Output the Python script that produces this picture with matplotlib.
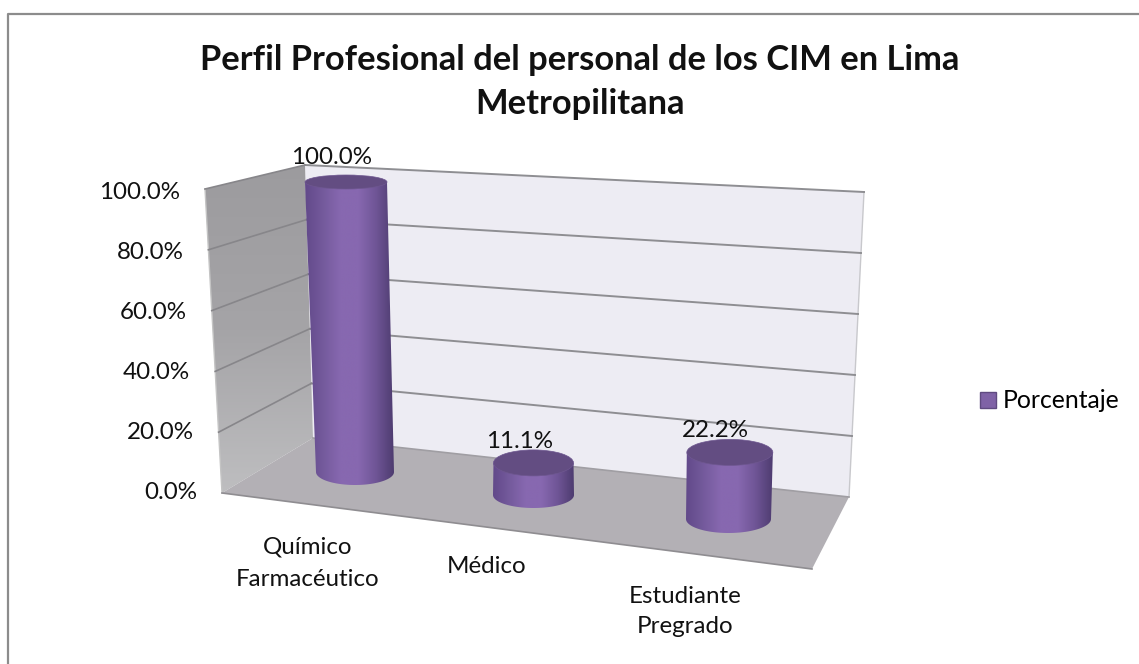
import numpy as np
import matplotlib
matplotlib.use("Agg")
import matplotlib.pyplot as plt
from matplotlib.patches import Polygon, Ellipse, PathPatch, Patch
from matplotlib.path import Path
from matplotlib.colors import LinearSegmentedColormap

# --- data ---
title = "Perfil Profesional del personal de los CIM en Lima\nMetropilitana"
categories = ["Químico\nFarmacéutico", "Médico", "Estudiante\nPregrado"]
values = [100.0, 11.1, 22.2]
series_name = "Porcentaje"
y_ticks = [0, 20, 40, 60, 80, 100]

# --- style / layout (pixel space of the 3D projection) ---
W, H = 1139, 664
FONT = "Lato"
FS = 17.4
back_tl, back_tr = (305, 165), (864, 192)
back_bl, back_br = (313, 438), (849, 497)
side_tl, side_bl = (205, 189), (222, 493)
floor_fr = (812, 569)
y_max = 100.0
# per-category baseline centre, pixels per full-scale, lean, radii
cyl_base = [(355, 472), (533.5, 495), (728.5, 519)]
cyl_full = [290, 289, 300]
cyl_lean = [-9.0, 0.0, 6.0]
cyl_a = [(41, 39), (40, 40.5), (43, 42.5)]
cyl_b_top = [7, 13, 13]
cyl_b_bot = [13, 13, 14]
cat_label_xy = [(308, 586), (487, 573), (685, 633)]
cat_linespacing = [1.7, 1.5, 1.55]
tick_x0, tick_x1 = 197, 180
tick_y0, tick_y1 = 499, 199

fig = plt.figure(figsize=(W / 100, H / 100), dpi=100, facecolor="white")
ax = fig.add_axes([0, 0, 1, 1])
ax.set_axis_off()


def lerp(p, q, t):
    return (p[0] + (q[0] - p[0]) * t, p[1] + (q[1] - p[1]) * t)


def poly(pts, fc, ec="none", lw=0, z=1):
    ax.add_patch(Polygon(pts, closed=True, fc=fc, ec=ec, lw=lw, zorder=z))


# frame (left and top edges only)
ax.plot([8, 8, W], [H, 14, 14], color="#8c8c8c", lw=1.6, zorder=0)

# walls and floor
poly([back_tl, back_tr, back_br, back_bl], "#edecf3", z=1)
side_pts = [side_tl, back_tl, back_bl, side_bl]
side_clip = Polygon(side_pts, closed=True, fc="none", ec="none")
ax.add_patch(side_clip)
side_cmap = LinearSegmentedColormap.from_list("side", ["#9c9b9e", "#a5a4a7", "#bfbfc1"])
side_im = ax.imshow(np.linspace(0, 1, 256)[:, None], extent=[200, 320, 500, 160], cmap=side_cmap,
                    aspect="auto", zorder=1, interpolation="bilinear")
side_im.set_clip_path(side_clip)
poly([side_bl, back_bl, back_br, floor_fr], "#b3b0b5", z=1)
ax.plot([side_tl[0], side_bl[0]], [side_tl[1], side_bl[1]], color="#c4c4c4", lw=1, zorder=2)
ax.plot([back_tr[0], back_br[0]], [back_tr[1], back_br[1]], color="#c8c8cc", lw=1, zorder=2)
ax.plot([side_bl[0], floor_fr[0]], [side_bl[1], floor_fr[1]], color="#8f8d91", lw=1.2, zorder=2)
ax.plot([back_bl[0], back_br[0]], [back_bl[1], back_br[1]], color="#a09ea3", lw=1.2, zorder=2)

# gridlines and tick labels, from the value scale
for v in y_ticks:
    t = v / y_max
    a = lerp(back_bl, back_tl, t)
    b = lerp(back_br, back_tr, t)
    c = lerp(side_bl, side_tl, t)
    if v > 0:
        ax.plot([a[0], b[0]], [a[1], b[1]], color="#8e8e92", lw=1.4, zorder=2)
        ax.plot([c[0], a[0]], [c[1], a[1]], color="#87868a", lw=1.2, zorder=2)
    ax.text(tick_x0 + (tick_x1 - tick_x0) * t, tick_y0 + (tick_y1 - tick_y0) * t, f"{v:.1f}%",
            ha="right", va="baseline", fontsize=FS, family=FONT, color="#111111", zorder=6)

cmap = LinearSegmentedColormap.from_list(
    "cyl", ["#62498a", "#745a9c", "#8768b0", "#8768b0", "#6f5596", "#4e3c70"])
grad = np.linspace(0, 1, 256)[None, :]

# cylinders
for val, base, full, lean, (a_top, a_bot), b_top, b_bot in zip(
        values, cyl_base, cyl_full, cyl_lean, cyl_a, cyl_b_top, cyl_b_bot):
    cx, cy = base
    top_y = cy - val / y_max * full
    top_x = cx + val / y_max * lean
    th = np.linspace(np.pi, 0, 60)
    lower = np.column_stack([cx + a_bot * np.cos(th), cy + b_bot * np.sin(th)])
    upper = np.array([[top_x + a_top, top_y], [top_x - a_top, top_y]])
    outline = np.vstack([lower, upper, lower[:1]])
    clip = PathPatch(Path(outline), fc="none", ec="none", transform=ax.transData)
    ax.add_patch(clip)
    xmin = min(cx - a_bot, top_x - a_top)
    xmax = max(cx + a_bot, top_x + a_top)
    im = ax.imshow(grad, extent=[xmin, xmax, cy + b_bot, top_y], cmap=cmap, aspect="auto",
                   zorder=3, interpolation="bilinear")
    im.set_clip_path(clip)
    ax.add_patch(Ellipse((top_x, top_y), 2 * a_top, 2 * b_top, fc="#634d82", ec="#6e5790", lw=0.5, zorder=4))
    ax.text(top_x - 14, top_y - 15 - (3 if val > 50 else 0), f"{val:.1f}%",
            ha="center", va="baseline", fontsize=FS, family=FONT, color="#111111", zorder=6)

# category labels
for lab, (x, y), ls in zip(categories, cat_label_xy, cat_linespacing):
    ax.text(x, y, lab, ha="center", va="baseline", fontsize=FS, family=FONT, color="#111111",
            linespacing=ls, zorder=6)

# title
ax.text(580, 82, title, ha="center", va="center", fontsize=24.8, family=FONT, weight="bold",
        color="#111111", linespacing=1.46, zorder=6)

# legend
ax.legend(handles=[Patch(fc="#7f62a6", ec="#5f4a80", lw=1, label=series_name)],
          loc="center left", bbox_to_anchor=(960 / W, 1 - 401 / H), bbox_transform=fig.transFigure,
          frameon=False, prop={"family": FONT, "size": 17.8}, handlelength=0.65, handleheight=0.65,
          handletextpad=0.28, borderpad=0.3)

ax.set_xlim(0, W)
ax.set_ylim(H, 0)
fig.savefig("out.png", dpi=100, facecolor="white")
